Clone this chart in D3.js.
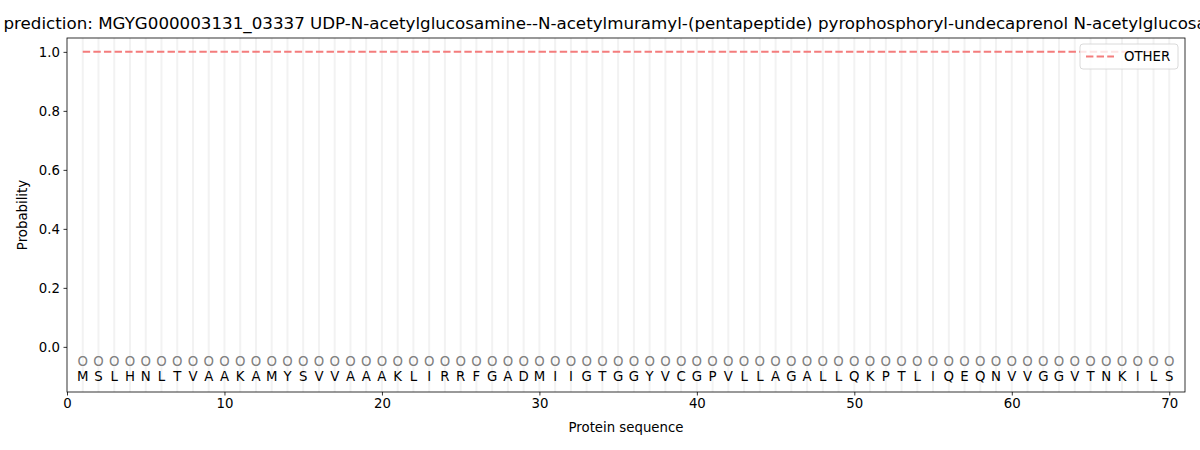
<!DOCTYPE html>
<html>
<head>
<meta charset="utf-8">
<script src="https://cdn.jsdelivr.net/npm/d3@7"></script>
<style>
  body { margin: 0; background: #fff; }
  text { font-family: "DejaVu Sans", sans-serif; }
</style>
</head>
<body>
<svg id="chart" width="1200" height="450"></svg>
<script>
var title = 'prediction: MGYG000003131_03337 UDP-N-acetylglucosamine--N-acetylmuramyl-(pentapeptide) pyrophosphoryl-undecaprenol N-acetylglucosamine'
var sequence = 'MSLHNLTVAAKAMYSVVAAAKLIRRFGADMIIGTGGYVCGPVLLAGALLQKPTLIQEQNVVGGVTNKILS'.split('')
var labels = sequence.map(function () { return 'O' })
var other_prob = sequence.map(function () { return 1.0 })
var x_ticks = [0, 10, 20, 30, 40, 50, 60, 70]
var y_ticks = [0.0, 0.2, 0.4, 0.6, 0.8, 1.0]

var margin = {left: 67, right: 15, top: 38, bottom: 58}
var W = 1200, H = 450
var iw = W - margin.left - margin.right
var ih = H - margin.top - margin.bottom

var svg = d3.select('#chart')
var g = svg.append('g').attr('transform', 'translate(' + margin.left + ',' + margin.top + ')')

var x = d3.scaleLinear().domain([0, 71]).range([0, iw])
var y = d3.scaleLinear().domain([-0.153, 1.047]).range([ih, 0])

// grey guide line per residue
g.selectAll('line.guide').data(sequence).enter().append('line')
    .attr('class', 'guide')
    .attr('x1', function (d, i) { return x(i + 1) })
    .attr('x2', function (d, i) { return x(i + 1) })
    .attr('y1', 0).attr('y2', ih)
    .attr('stroke', '#f2f2f2').attr('stroke-width', 2)

// OTHER probability line
var line = d3.line()
    .x(function (d, i) { return x(i + 1) })
    .y(function (d) { return y(d) })

g.append('path').datum(other_prob)
    .attr('d', line)
    .attr('fill', 'none')
    .attr('stroke', '#f47c7c')
    .attr('stroke-width', 2)
    .attr('stroke-dasharray', '7.4,3.2')

// predicted label markers
g.selectAll('text.lab').data(labels).enter().append('text')
    .attr('class', 'lab')
    .attr('x', function (d, i) { return x(i + 1) })
    .attr('y', y(-0.05))
    .attr('dy', '0.36em')
    .attr('text-anchor', 'middle')
    .attr('font-size', '13.3px')
    .attr('fill', '#808080')
    .text(function (d) { return d })

// residues
g.selectAll('text.aa').data(sequence).enter().append('text')
    .attr('class', 'aa')
    .attr('x', function (d, i) { return x(i + 1) })
    .attr('y', y(-0.1))
    .attr('dy', '0.36em')
    .attr('text-anchor', 'middle')
    .attr('font-size', '13.3px')
    .attr('fill', '#000')
    .text(function (d) { return d })

// axes
var xAxis = g.append('g').attr('transform', 'translate(0,' + ih + ')')
    .call(d3.axisBottom(x).tickValues(x_ticks).tickFormat(d3.format('d')).tickSizeOuter(0).tickSize(3.5).tickPadding(3.5))
var yAxis = g.append('g')
    .call(d3.axisLeft(y).tickValues(y_ticks).tickFormat(d3.format('.1f')).tickSizeOuter(0).tickSize(3.5).tickPadding(3.5))

;[xAxis, yAxis].forEach(function (a) {
    a.select('.domain').remove()
    a.selectAll('text').attr('font-size', '13.3px').attr('fill', '#000').style('font-family', '"DejaVu Sans", sans-serif')
    a.selectAll('line').attr('stroke', '#000').attr('stroke-width', 0.8)
})

g.append('rect')
    .attr('x', 0).attr('y', 0).attr('width', iw).attr('height', ih)
    .attr('fill', 'none').attr('stroke', '#000').attr('stroke-width', 0.8)

// axis labels
svg.append('text')
    .attr('x', margin.left + iw / 2).attr('y', 432)
    .attr('text-anchor', 'middle').attr('font-size', '13.3px')
    .text('Protein sequence')

svg.append('text')
    .attr('transform', 'translate(27,' + (margin.top + ih / 2) + ') rotate(-90)')
    .attr('text-anchor', 'middle').attr('font-size', '13.3px')
    .text('Probability')

// title (the reference is cut at the figure edges too)
svg.append('text')
    .attr('x', margin.left + iw / 2).attr('y', 29)
    .attr('text-anchor', 'middle').attr('font-size', '16.7px')
    .text(title)

// legend
var lg = g.append('g').attr('transform', 'translate(' + (iw - 105) + ',6)')
lg.append('rect')
    .attr('width', 98).attr('height', 25).attr('rx', 3)
    .attr('fill', '#fff').attr('fill-opacity', 0.8)
    .attr('stroke', '#d0d0d0').attr('stroke-width', 0.8)
lg.append('line')
    .attr('x1', 6).attr('x2', 34).attr('y1', 12.5).attr('y2', 12.5)
    .attr('stroke', '#f47c7c').attr('stroke-width', 2).attr('stroke-dasharray', '7.4,3.2')
lg.append('text')
    .attr('x', 44).attr('y', 12.5).attr('dy', '0.36em')
    .attr('font-size', '13.3px')
    .text('OTHER')
</script>
</body>
</html>
